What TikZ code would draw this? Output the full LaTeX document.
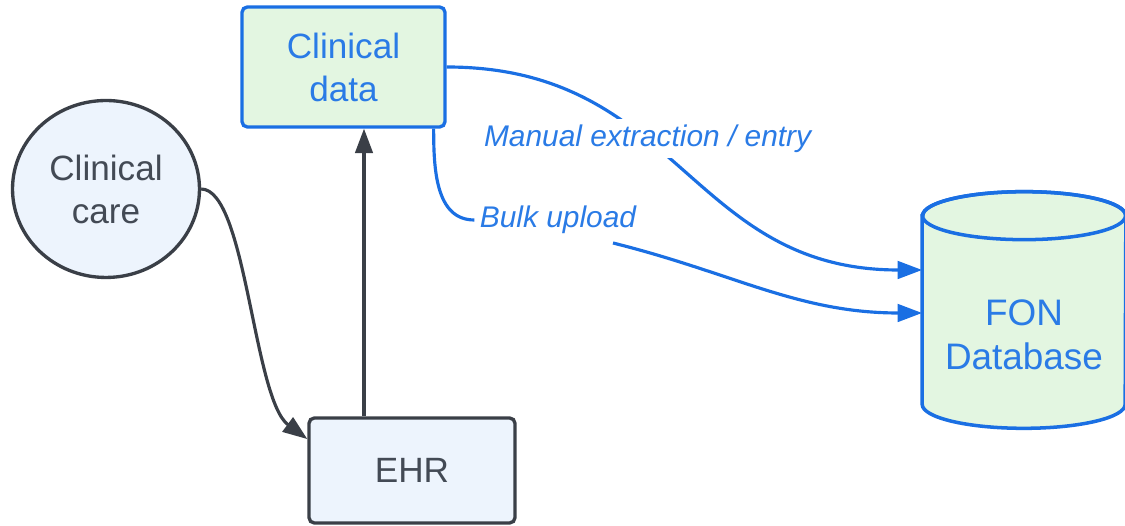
\documentclass[tikz,border=0pt]{standalone}
\usepackage{fontspec}
\setmainfont{Liberation Sans}
\usetikzlibrary{shapes.geometric,arrows.meta,calc}
\definecolor{myblue}{HTML}{1A6FE3}
\definecolor{lblblue}{HTML}{2A7BE6}
\definecolor{mygreen}{HTML}{E3F6E1}
\definecolor{mylightblue}{HTML}{EDF4FD}
\definecolor{mydark}{HTML}{3A3F47}
\definecolor{mytext}{HTML}{434A55}
\tikzset{
  nodefont/.style={font=\fontsize{20}{24.5}\selectfont, align=center},
  bluebox/.style={nodefont, draw=myblue, fill=mygreen, line width=1.9pt, rounded corners=3pt, text=lblblue},
  graybox/.style={nodefont, draw=mydark, fill=mylightblue, line width=1.9pt, rounded corners=3pt, text=mytext},
  darkarrow/.style={draw=mydark, line width=1.8pt, -{Triangle[length=14pt,width=10pt]}},
  bluearrow/.style={draw=myblue, line width=1.8pt, -{Triangle[length=14pt,width=10pt]}},
  blueline/.style={draw=myblue, line width=1.8pt},
  lbl/.style={font=\fontsize{17}{20}\selectfont\itshape, text=lblblue, fill=white, inner sep=3pt},
}
\begin{document}
\begin{tikzpicture}[x=0.02cm, y=0.02cm]
\useasboundingbox (0,0) rectangle (1125,526);

% nodes
\node[graybox, shape=ellipse, rounded corners=0pt, minimum width=3.74cm, minimum height=3.54cm, inner sep=0pt] (care) at (106,337) {Clinical\\care};
\node[bluebox, rectangle, minimum width=4.06cm, minimum height=2.4cm] (cd) at (343.5,459) {Clinical\\data};
\node[graybox, rectangle, minimum width=4.12cm, minimum height=2.1cm] (ehr) at (412,55.5) {EHR};

% database cylinder
\node[minimum width=4.06cm, minimum height=3.76cm, inner sep=0pt] (db) at (1024,216) {};
\path[fill=mygreen, draw=myblue, line width=2pt]
  (db.north west) -- (db.south west)
  arc[start angle=180, end angle=360, x radius=101.5, y radius=24]
  -- (db.north east)
  arc[start angle=0, end angle=180, x radius=101.5, y radius=24] -- cycle;
\draw[myblue, line width=2pt] (db.north) ellipse [x radius=101.5, y radius=24];
\node[font=\fontsize{21}{25}\selectfont, align=center, text=lblblue, anchor=center] (dbtext) at ($(db.center)+(0,-25)$) {FON\\Database};

% dark connectors
\draw[darkarrow] (care.east) .. controls +(45,0) and +(-54,40) .. ($(ehr.north west)!0.21!(ehr.south west)$);
\coordinate (up) at ($(ehr.north)+(-48,0)$);
\draw[darkarrow] (up) -- (up |- cd.south);

% manual extraction
\draw[bluearrow] (cd.east) .. controls +(233,0) and +(-233,0) ..
  node[lbl, pos=0.4] (manual) {Manual extraction / entry}
  ($(db.west)+(0,40)$);

% bulk upload
\node[lbl] (bulk) at (558,306) {Bulk upload};
\draw[blueline] ($(cd.south east)+(-13,0)$) to[out=-90, in=180] (bulk.west);
\draw[bluearrow] ($(bulk.center)+(55,-23)$) to[out=-14, in=180] ($(db.west)+(0,-3)$);
\end{tikzpicture}
\end{document}
